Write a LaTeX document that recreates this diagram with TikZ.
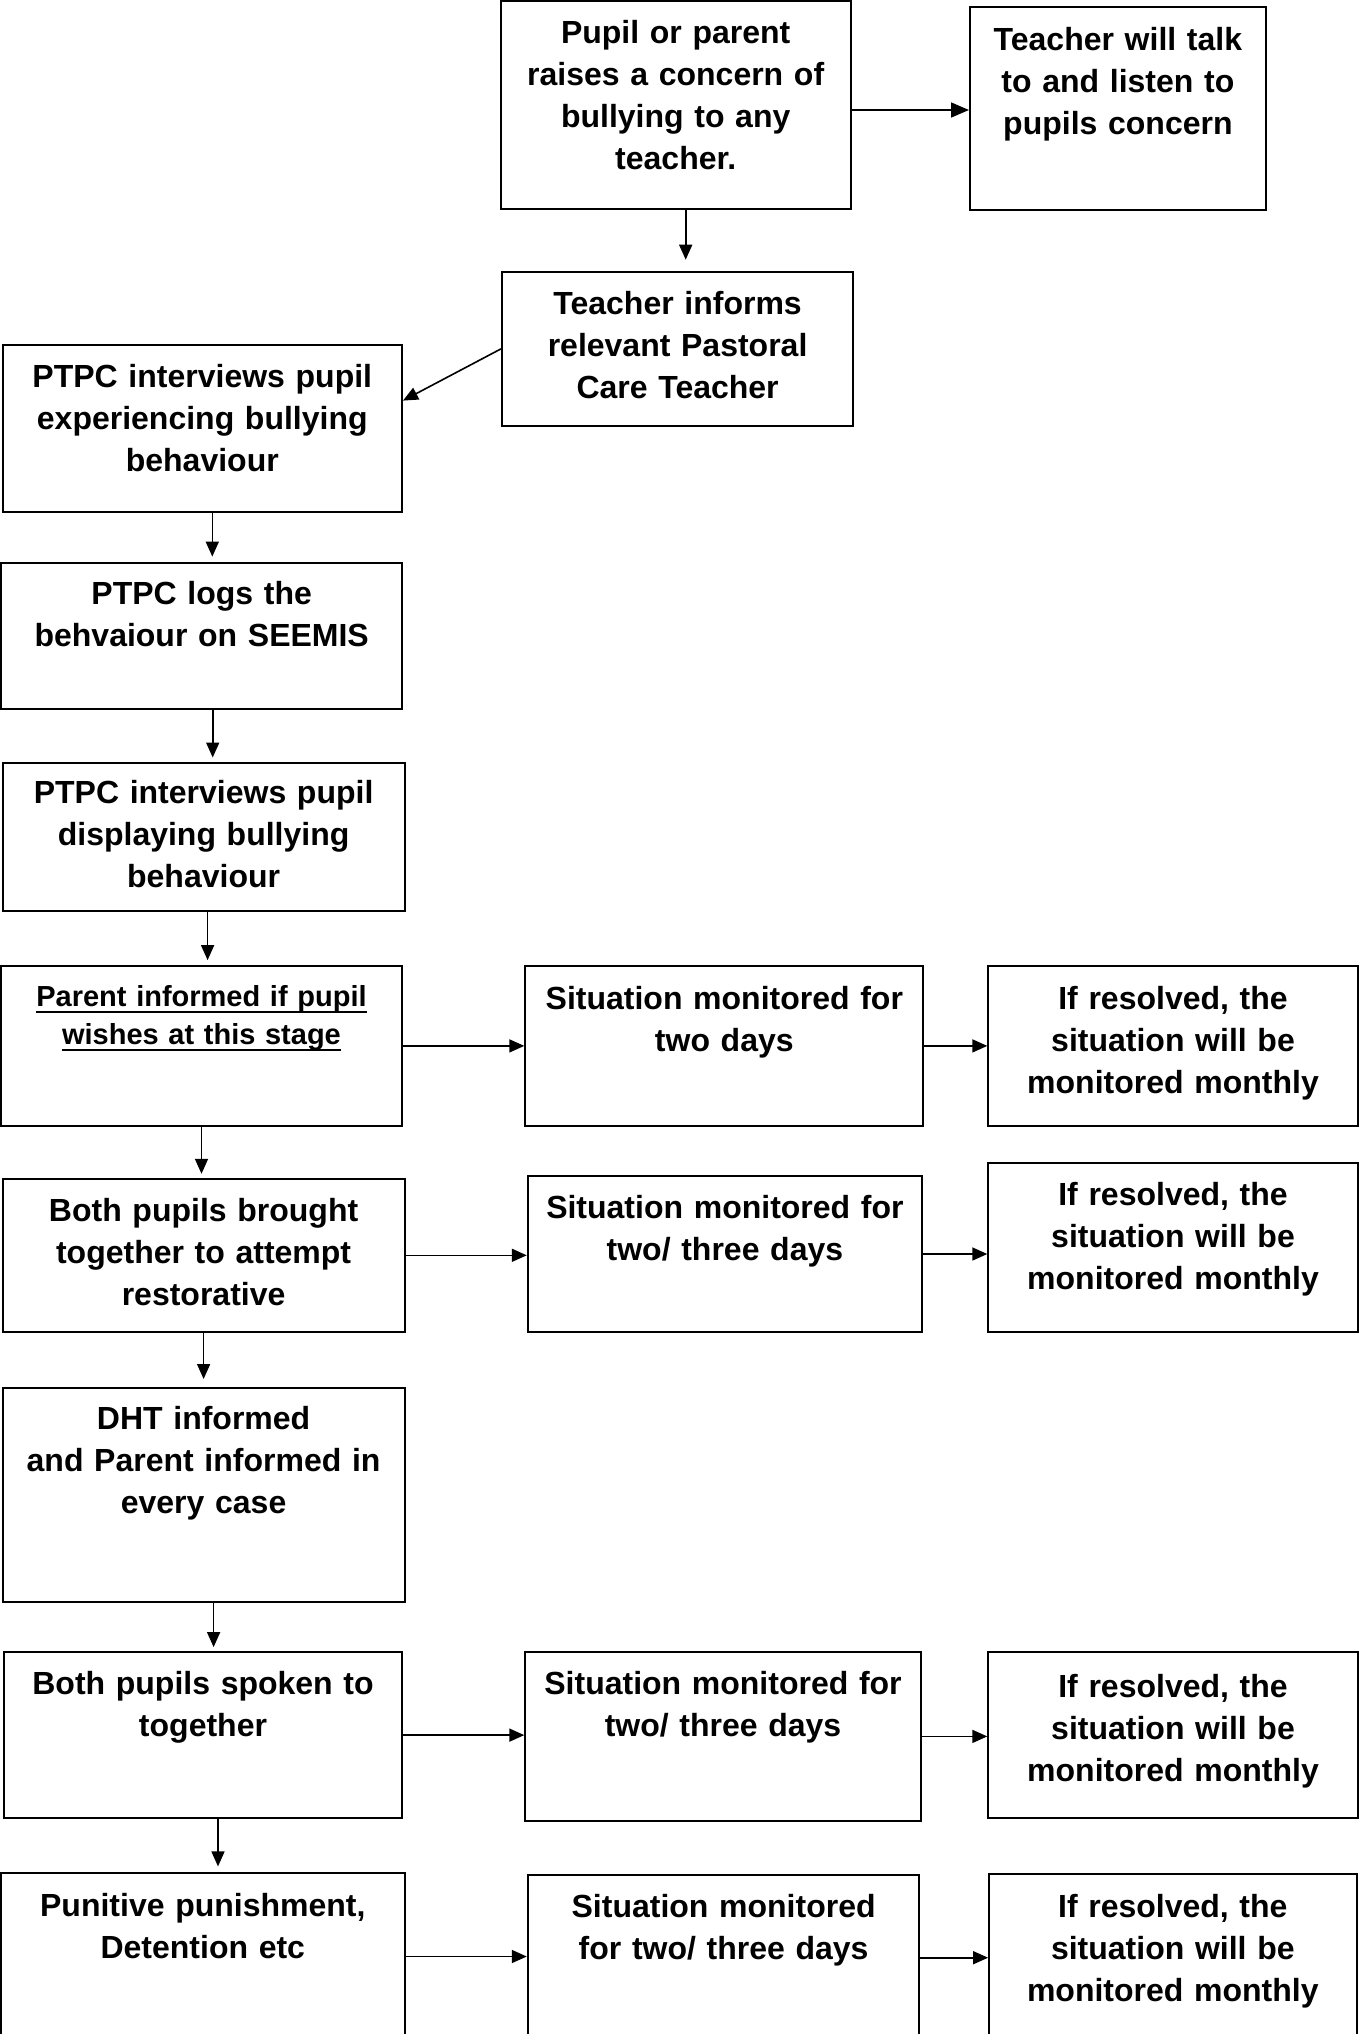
\documentclass[tikz,border=0pt]{standalone}
\usepackage{fontspec}
\setmainfont{Liberation Sans}
\usetikzlibrary{arrows.meta,calc}
\newcommand{\ulbold}[1]{\leavevmode\setbox0\hbox{#1}\rlap{\rule[-3.3pt]{\wd0}{1.2pt}}\box0}

\begin{document}
\begin{tikzpicture}[x=0.5pt,y=-0.5pt,
  stage/.style={draw, line width=1pt, inner sep=0pt},
  words/.style={font=\bfseries\fontsize{16}{21}\selectfont, align=center, text width=195pt, inner sep=0pt, anchor=north},
  small/.style={font=\bfseries\fontsize{14.5}{19}\selectfont},
  flow/.style={-{Triangle[length=7.5pt,width=6.5pt]}, line width=0.8pt}]
\clip (0,0) rectangle (1359,2034);
% boxes
\node[stage, minimum width=175pt, minimum height=103.75pt] (pupil) at (675.7,105) {};
\node[stage, minimum width=147.9pt, minimum height=101.8pt] (talk) at (1117.9,108.3) {};
\node[stage, minimum width=175.7pt, minimum height=76.6pt] (informs) at (677.6,348.9) {};
\node[stage, minimum width=199.7pt, minimum height=83.6pt] (interviewA) at (202.3,428.6) {};
\node[stage, minimum width=200.3pt, minimum height=73.3pt] (logs) at (201.7,636.1) {};
\node[stage, minimum width=201pt, minimum height=74pt] (interviewB) at (203.6,836.5) {};
\node[stage, minimum width=200.5pt, minimum height=79.75pt] (parentInf) at (201.5,1045.9) {};
\node[stage, minimum width=199pt, minimum height=79.75pt] (monitorA) at (724.3,1045.9) {};
\node[stage, minimum width=184.7pt, minimum height=79.75pt] (resolvedA) at (1173,1045.9) {};
\node[stage, minimum width=201pt, minimum height=76.5pt] (together) at (203.6,1255.3) {};
\node[stage, minimum width=197.1pt, minimum height=77.8pt] (monitorB) at (724.9,1254) {};
\node[stage, minimum width=184.7pt, minimum height=84.3pt] (resolvedB) at (1173,1247.5) {};
\node[stage, minimum width=201pt, minimum height=107pt] (dht) at (203.6,1494.6) {};
\node[stage, minimum width=199pt, minimum height=83pt] (spoken) at (203,1735.1) {};
\node[stage, minimum width=197.7pt, minimum height=84.3pt] (monitorC) at (723,1736.4) {};
\node[stage, minimum width=184.7pt, minimum height=83pt] (resolvedC) at (1173,1735.1) {};
\node[stage, minimum width=201.8pt, minimum height=83.5pt] (punish) at (202.8,1956.5) {};
\node[stage, minimum width=195.8pt, minimum height=82.3pt] (monitorD) at (723.6,1957.7) {};
\node[stage, minimum width=183.7pt, minimum height=83pt] (resolvedD) at (1172.8,1957) {};
% texts
\node[words] (pupilText) at ([yshift=-9.8pt]pupil.north) {Pupil or parent\\raises a concern of\\bullying to any\\teacher.};
\node[words] (talkText) at ([yshift=-10.5pt]talk.north) {Teacher will talk\\to and listen to\\pupils concern};
\node[words] (informsText) at ([yshift=-9.8pt]informs.north) {Teacher informs\\relevant Pastoral\\Care Teacher};
\node[words] (interviewAText) at ([yshift=-9.8pt]interviewA.north) {PTPC interviews pupil\\experiencing bullying\\behaviour};
\node[words] (logsText) at ([yshift=-9.8pt]logs.north) {PTPC logs the\\behvaiour on SEEMIS};
\node[words] (interviewBText) at ([yshift=-9.3pt]interviewB.north) {PTPC interviews pupil\\displaying bullying\\behaviour};
\node[words, small] (parentInfText) at ([yshift=-10pt]parentInf.north) {\ulbold{Parent informed if pupil}\\\ulbold{wishes at this stage}};
\node[words] (monitorAText) at ([yshift=-10.5pt]monitorA.north) {Situation monitored for\\two days};
\node[words] (resolvedAText) at ([yshift=-10.5pt]resolvedA.north) {If resolved, the\\situation will be\\monitored monthly};
\node[words] (togetherText) at ([yshift=-9.8pt]together.north) {Both pupils brought\\together to attempt\\restorative};
\node[words] (monitorBText) at ([yshift=-9.8pt]monitorB.north) {Situation monitored for\\two/ three days};
\node[words] (resolvedBText) at ([yshift=-9.8pt]resolvedB.north) {If resolved, the\\situation will be\\monitored monthly};
\node[words] (dhtText) at ([yshift=-9.8pt]dht.north) {DHT informed\\and Parent informed in\\every case};
\node[words] (spokenText) at ([yshift=-9.8pt]spoken.north) {Both pupils spoken to\\together};
\node[words] (monitorCText) at ([yshift=-9.8pt]monitorC.north) {Situation monitored for\\two/ three days};
\node[words] (resolvedCText) at ([yshift=-11.3pt]resolvedC.north) {If resolved, the\\situation will be\\monitored monthly};
\node[words] (punishText) at ([yshift=-10.3pt]punish.north) {Punitive punishment,\\Detention etc};
\node[words] (monitorDText) at ([yshift=-9.8pt]monitorD.north) {Situation monitored\\for two/ three days};
\node[words] (resolvedDText) at ([yshift=-10.3pt]resolvedD.north) {If resolved, the\\situation will be\\monitored monthly};
% connectors
\draw[flow, -{Triangle[length=9pt,width=7.5pt]}] ([yshift=-2.5pt]pupil.east) -- ([yshift=-2.5pt]pupil.east -| talk.west);
\draw[flow, shorten >=5.8pt] ([xshift=5pt]pupil.south) -- ([xshift=5pt]pupil.south |- informs.north);
\draw[flow] (informs.west) -- ([yshift=14pt]interviewA.east);
\draw[flow, shorten >=2.6pt] ([xshift=5pt]interviewA.south) -- ([xshift=5pt]interviewA.south |- logs.north);
\draw[flow, shorten >=2pt] ([xshift=5.5pt]logs.south) -- ([xshift=5.5pt]logs.south |- interviewB.north);
\draw[flow, shorten >=2.5pt] ([xshift=2pt]interviewB.south) -- ([xshift=2pt]interviewB.south |- parentInf.north);
\draw[flow, shorten >=2pt] (parentInf.south) -- (parentInf.south |- together.north);
\draw[flow, shorten >=3.8pt] (together.south) -- (together.south |- dht.north);
\draw[flow, shorten >=2pt] ([xshift=5pt]dht.south) -- ([xshift=5pt]dht.south |- spoken.north);
\draw[flow, shorten >=2.8pt] ([xshift=7.5pt]spoken.south) -- ([xshift=7.5pt]spoken.south |- punish.north);
\draw[flow] (parentInf.east) -- (parentInf.east -| monitorA.west);
\draw[flow] (monitorA.east) -- (monitorA.east -| resolvedA.west);
\draw[flow] (together.east) -- (together.east -| monitorB.west);
\draw[flow] (monitorB.east) -- (monitorB.east -| resolvedB.west);
\draw[flow] (spoken.east) -- (spoken.east -| monitorC.west);
\draw[flow] (monitorC.east) -- (monitorC.east -| resolvedC.west);
\draw[flow] (punish.east) -- (punish.east -| monitorD.west);
\draw[flow] (monitorD.east) -- (monitorD.east -| resolvedD.west);
\end{tikzpicture}
\end{document}
